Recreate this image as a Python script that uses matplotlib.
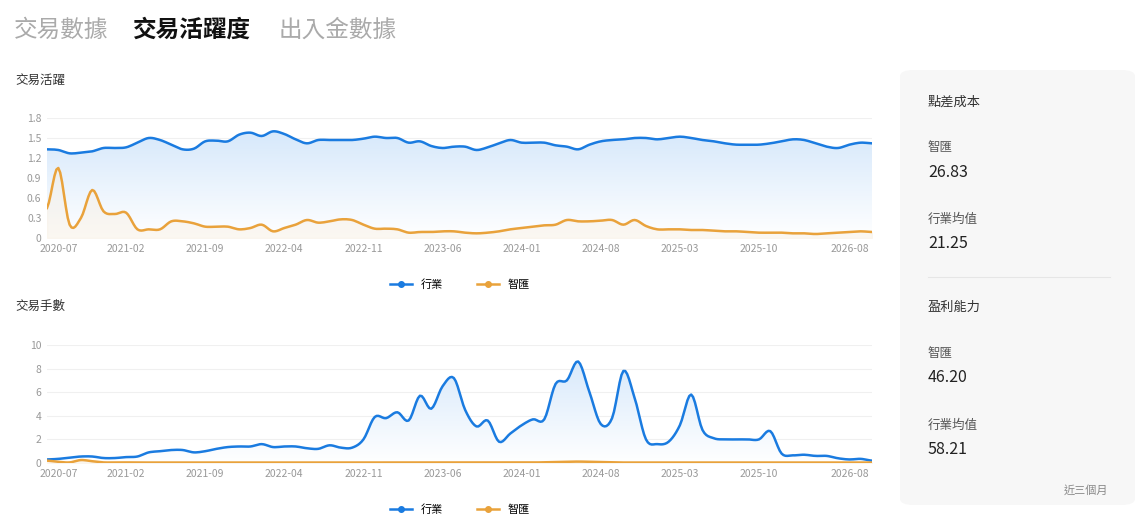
import numpy as np
import matplotlib
matplotlib.use('Agg')
import matplotlib.pyplot as plt
from matplotlib.patches import FancyBboxPatch
from matplotlib.lines import Line2D

plt.rcParams['font.family'] = ['Noto Sans CJK TC', 'DejaVu Sans']

tick_idx = [1, 7, 14, 21, 28, 35, 42, 49, 56, 63, 71]
tick_labels = ['2020-07', '2021-02', '2021-09', '2022-04', '2022-11', '2023-06',
               '2024-01', '2024-08', '2025-03', '2025-10', '2026-08']

activity_industry = [1.33, 1.32, 1.27, 1.28, 1.30, 1.35, 1.35, 1.36, 1.43, 1.50, 1.47, 1.40, 1.33, 1.34,
                     1.45, 1.46, 1.45, 1.55, 1.58, 1.53, 1.60, 1.56, 1.48, 1.42, 1.47, 1.47, 1.47, 1.47,
                     1.49, 1.52, 1.50, 1.50, 1.43, 1.45, 1.38, 1.35, 1.37, 1.37, 1.32, 1.36, 1.42, 1.47,
                     1.43, 1.43, 1.43, 1.39, 1.37, 1.33, 1.40, 1.45, 1.47, 1.48, 1.50, 1.50, 1.48, 1.50,
                     1.52, 1.50, 1.47, 1.45, 1.42, 1.40, 1.40, 1.40, 1.42, 1.45, 1.48, 1.47, 1.42, 1.37,
                     1.35, 1.40, 1.43, 1.42]
activity_broker = [0.45, 1.05, 0.20, 0.30, 0.72, 0.40, 0.36, 0.38, 0.13, 0.13, 0.13, 0.25, 0.25, 0.22,
                   0.17, 0.17, 0.17, 0.13, 0.15, 0.20, 0.10, 0.15, 0.20, 0.27, 0.23, 0.25, 0.28, 0.27,
                   0.20, 0.14, 0.14, 0.13, 0.08, 0.09, 0.09, 0.10, 0.10, 0.08, 0.07, 0.08, 0.10, 0.13,
                   0.15, 0.17, 0.19, 0.20, 0.27, 0.25, 0.25, 0.26, 0.27, 0.20, 0.27, 0.18, 0.13, 0.13,
                   0.13, 0.12, 0.12, 0.11, 0.10, 0.10, 0.09, 0.08, 0.08, 0.08, 0.07, 0.07, 0.06, 0.07,
                   0.08, 0.09, 0.10, 0.09]
lots_industry = [0.3, 0.35, 0.45, 0.55, 0.55, 0.42, 0.42, 0.5, 0.55, 0.9, 1.0, 1.1, 1.1, 0.9,
                 1.0, 1.2, 1.35, 1.4, 1.4, 1.6, 1.35, 1.4, 1.4, 1.25, 1.2, 1.5, 1.3, 1.3,
                 2.0, 3.9, 3.8, 4.3, 3.6, 5.7, 4.6, 6.5, 7.2, 4.5, 3.1, 3.6, 1.8, 2.5,
                 3.2, 3.7, 3.7, 6.7, 7.0, 8.6, 6.0, 3.3, 3.8, 7.8, 5.5, 2.0, 1.6, 1.8,
                 3.2, 5.8, 2.8, 2.1, 2.0, 2.0, 2.0, 2.0, 2.7, 0.8, 0.65, 0.7, 0.6, 0.6,
                 0.4, 0.3, 0.35, 0.2]
lots_broker = [0.2, 0.1, 0.05, 0.25, 0.15, 0.05, 0.05, 0.05, 0.04, 0.04, 0.04, 0.04, 0.04, 0.04,
               0.04, 0.04, 0.04, 0.04, 0.04, 0.04, 0.04, 0.04, 0.04, 0.04, 0.04, 0.04, 0.04, 0.04,
               0.04, 0.04, 0.04, 0.04, 0.04, 0.04, 0.04, 0.04, 0.04, 0.04, 0.04, 0.04, 0.04, 0.04,
               0.04, 0.04, 0.06, 0.08, 0.1, 0.12, 0.1, 0.08, 0.05, 0.04, 0.04, 0.04, 0.04, 0.04,
               0.04, 0.04, 0.04, 0.04, 0.04, 0.04, 0.04, 0.04, 0.04, 0.04, 0.04, 0.04, 0.04, 0.04,
               0.04, 0.04, 0.04, 0.04]

BLUE = '#1a7be0'
ORANGE = '#e9a23b'
GREY = '#999999'


def smooth(y, k=6):
    # Catmull-Rom through the points
    y = np.asarray(y, float)
    xs = np.linspace(0, len(y) - 1, (len(y) - 1) * k + 1)
    out = []
    p = np.concatenate([[y[0]], y, [y[-1]]])
    for t in xs:
        i = min(int(t), len(y) - 2)
        u = t - i
        p0, p1, p2, p3 = p[i], p[i + 1], p[i + 2], p[i + 3]
        out.append(0.5 * ((2 * p1) + (-p0 + p2) * u + (2 * p0 - 5 * p1 + 4 * p2 - p3) * u ** 2
                          + (-p0 + 3 * p1 - 3 * p2 + p3) * u ** 3))
    return xs, np.array(out)


def draw(ax, ind, brk, ymax, yticks, ylabels):
    xs, yi = smooth(ind)
    _, yb = smooth(brk)
    grad = np.linspace(0, 1, 256).reshape(-1, 1)
    cmap = matplotlib.colors.LinearSegmentedColormap.from_list('g', ['#ffffff', '#d6e8fb'])
    im = ax.imshow(grad, aspect='auto', cmap=cmap, extent=[0, len(ind) - 1, 0, ymax * 0.9],
                   origin='lower', zorder=1)
    poly = ax.fill_between(xs, 0, yi, color='none')
    im.set_clip_path(poly.get_paths()[0], transform=ax.transData)
    ax.fill_between(xs, 0, yb, color='#f8efe3', alpha=0.45, zorder=1.5)
    ax.plot(xs, yi, color=BLUE, lw=1.8, zorder=3)
    ax.plot(xs, yb, color=ORANGE, lw=1.8, zorder=3)
    ax.set_xlim(0, len(ind) - 1)
    ax.set_ylim(0, ymax)
    ax.set_yticks(yticks)
    ax.set_yticklabels(ylabels)
    ax.set_xticks(tick_idx)
    ax.set_xticklabels(tick_labels)
    ax.grid(axis='y', color='#f0f0f0', lw=0.8)
    ax.set_axisbelow(True)
    for s in ax.spines.values():
        s.set_visible(False)
    ax.tick_params(length=0, labelsize=7.5, colors=GREY, pad=4)


fig = plt.figure(figsize=(11.37, 5.21), dpi=100)

fig.text(14 / 1137, 1 - 30 / 521, '交易數據', fontsize=17, color='#aaaaaa', va='center')
fig.text(133 / 1137, 1 - 30 / 521, '交易活躍度', fontsize=17, color='#111111', va='center',
         fontweight='bold')
fig.text(279 / 1137, 1 - 30 / 521, '出入金數據', fontsize=17, color='#aaaaaa', va='center')

fig.text(15 / 1137, 1 - 80 / 521, '交易活躍', fontsize=9, color='#333333', va='center')
fig.text(15 / 1137, 1 - 306 / 521, '交易手數', fontsize=9, color='#333333', va='center')

ax1 = fig.add_axes([47 / 1137, 1 - 238 / 521, 825 / 1137, 120 / 521])
draw(ax1, activity_industry, activity_broker, 1.8,
     [0, 0.3, 0.6, 0.9, 1.2, 1.5, 1.8], ['0', '0.3', '0.6', '0.9', '1.2', '1.5', '1.8'])
ax2 = fig.add_axes([47 / 1137, 1 - 463 / 521, 825 / 1137, 118 / 521])
draw(ax2, lots_industry, lots_broker, 10, [0, 2, 4, 6, 8, 10], ['0', '2', '4', '6', '8', '10'])

handles = [Line2D([], [], color=BLUE, lw=1.8, marker='o', markersize=4, label='行業'),
           Line2D([], [], color=ORANGE, lw=1.8, marker='o', markersize=4, label='智匯')]
for yy in (285, 510):
    fig.legend(handles=handles, loc='center', bbox_to_anchor=(460 / 1137, 1 - yy / 521), ncol=2,
               frameon=False, fontsize=8, handlelength=2, columnspacing=3)

box = FancyBboxPatch((900 / 1137, 1 - 505 / 521), 235 / 1137, 435 / 521,
                     boxstyle='round,pad=0,rounding_size=0.012', transform=fig.transFigure,
                     facecolor='#f7f7f7', edgecolor='none')
fig.patches.append(box)
fig.lines.append(Line2D([928 / 1137, 1110 / 1137], [1 - 277 / 521] * 2, transform=fig.transFigure,
                        color='#e6e6e6', lw=0.8))

panel = [(102, '點差成本', 9.5, '#333333'), (148, '智匯', 9, '#555555'), (172, '26.83', 11.5, '#222222'),
         (219, '行業均值', 9, '#555555'), (243, '21.25', 11.5, '#222222'),
         (307, '盈利能力', 9.5, '#333333'), (353, '智匯', 9, '#555555'), (378, '46.20', 11.5, '#222222'),
         (425, '行業均值', 9, '#555555'), (449, '58.21', 11.5, '#222222')]
for yy, txt, fs, col in panel:
    fig.text(928 / 1137, 1 - yy / 521, txt, fontsize=fs, color=col, va='center')
fig.text(1108 / 1137, 1 - 490 / 521, '近三個月', fontsize=8, color='#888888', va='center', ha='right')

fig.savefig('out.png', dpi=100)
